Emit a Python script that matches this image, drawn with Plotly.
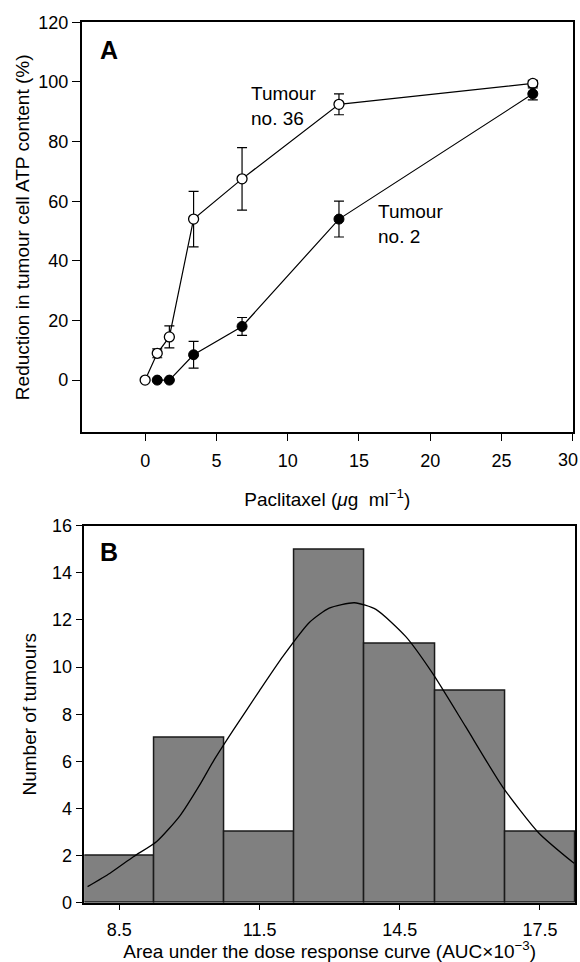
import plotly.graph_objects as go

# ---------------- Panel A data ----------------
dose = [0, 0.85, 1.7, 3.4, 6.8, 13.6, 27.2]
t36_y = [0, 9, 14.5, 54, 67.5, 92.5, 99.5]
t36_err = [0, 1.5, 3.7, 9.3, 10.5, 3.5, 1.0]
dose_t2 = [0.85, 1.7, 3.4, 6.8, 13.6, 27.2]
t2_y = [0, 0, 8.5, 18, 54, 96]
t2_err = [0, 0, 4.5, 3.0, 6.0, 2.0]
xticks_a = [0, 5, 10, 15, 20, 25, 30]
xticklabels_a = ["0", "5", "10", "15", "20", "25", ""]   # "30" drawn as edge label below
edge_label_a = "30"
yticks_a = [0, 20, 40, 60, 80, 100, 120]

# ---------------- Panel B data ----------------
bin_centers = [8.5, 10.0, 11.5, 13.0, 14.5, 16.0, 17.5]
bin_counts = [2, 7, 3, 15, 11, 9, 3]
bin_width = 1.5
curve_x = [7.82, 8.30, 8.80, 9.30, 9.80, 10.22, 10.51, 10.93, 11.50, 12.00,
           12.57, 12.99, 13.53, 13.99, 14.63, 15.20, 15.91, 16.70, 17.48, 18.23]
curve_y = [0.68, 1.25, 1.95, 2.60, 3.70, 5.00, 6.00, 7.30, 9.00, 10.45,
           11.90, 12.50, 12.73, 12.45, 11.29, 9.74, 7.47, 4.92, 2.95, 1.67]
xticks_b = [8.5, 11.5, 14.5, 17.5]
yticks_b = [0, 2, 4, 6, 8, 10, 12, 14, 16]

W, H = 580, 962
FONT = "Liberation Sans, Arial, Helvetica, sans-serif"

fig = go.Figure()

fig.add_trace(go.Scatter(
    x=dose, y=t36_y, mode="lines+markers", name="Tumour no. 36",
    line=dict(color="black", width=1.2),
    marker=dict(symbol="circle", size=10, color="white", line=dict(color="black", width=1.3)),
    error_y=dict(type="data", array=t36_err, color="black", thickness=1.2, width=5),
    xaxis="x", yaxis="y", showlegend=False))

fig.add_trace(go.Scatter(
    x=dose_t2, y=t2_y, mode="lines+markers", name="Tumour no. 2",
    line=dict(color="black", width=1.2),
    marker=dict(symbol="circle", size=10, color="black", line=dict(color="black", width=1)),
    error_y=dict(type="data", array=t2_err, color="black", thickness=1.2, width=5),
    xaxis="x", yaxis="y", showlegend=False))

fig.add_trace(go.Bar(
    x=bin_centers, y=bin_counts, width=bin_width,
    marker=dict(color="#808080", line=dict(color="#1a1a1a", width=1.5)),
    xaxis="x2", yaxis="y2", showlegend=False))

fig.add_trace(go.Scatter(
    x=curve_x, y=curve_y, mode="lines",
    line=dict(color="black", width=1.3, shape="spline", smoothing=0.6),
    xaxis="x2", yaxis="y2", showlegend=False))

axis_common = dict(showline=True, linecolor="black", linewidth=1.5, mirror=True,
                   ticks="outside", tickcolor="black", tickwidth=1.3,
                   showgrid=False, zeroline=False, automargin=False,
                   tickfont=dict(size=18, color="black"))

fig.update_layout(
    width=W, height=H,
    margin=dict(l=0, r=0, t=0, b=0),
    paper_bgcolor="white", plot_bgcolor="white",
    font=dict(family=FONT, color="black"),
    bargap=0,
    xaxis=dict(domain=[81.7 / W, 573 / W], range=[-4.45, 30.02], tickvals=xticks_a,
               ticktext=xticklabels_a, ticklen=7, anchor="y", ticklabelstandoff=4,
               title=dict(text="Paclitaxel (<i>μ</i>g  ml<sup>−1</sup>)", font=dict(size=19), standoff=23),
               **axis_common),
    yaxis=dict(domain=[1 - 432.3 / H, 1 - 22.3 / H], range=[-17.5, 120],
               tickvals=yticks_a, ticklen=8, anchor="x",
               title=dict(text="Reduction in tumour cell ATP content (%)", font=dict(size=19), standoff=4),
               **axis_common),
    xaxis2=dict(domain=[84.3 / W, 575 / W], range=[7.75, 18.25], tickvals=xticks_b,
                ticktext=[str(v) for v in xticks_b], ticklen=6, anchor="y2", ticklabelstandoff=4,
                title=dict(text="Area under the dose response curve (AUC×10<sup>−3</sup>)", font=dict(size=19), standoff=14),
                **axis_common),
    yaxis2=dict(domain=[1 - 902.7 / H, 1 - 525.7 / H], range=[0, 16],
                tickvals=yticks_b, ticklen=7, anchor="x2",
                title=dict(text="Number of tumours", font=dict(size=19), standoff=10),
                **axis_common),
    annotations=[
        dict(text=edge_label_a, xref="paper", yref="paper", x=1.0, y=1 - 460 / H,
             xanchor="right", yanchor="middle", showarrow=False, font=dict(size=18)),
        dict(text="<b>A</b>", xref="x domain", yref="y domain", x=0.033, y=0.932,
             xanchor="left", yanchor="middle", showarrow=False, font=dict(size=25)),
        dict(text="<b>B</b>", xref="x2 domain", yref="y2 domain", x=0.0285, y=0.930,
             xanchor="left", yanchor="middle", showarrow=False, font=dict(size=25)),
        dict(text="Tumour<br>no. 36", xref="x", yref="y", x=7.26, y=92,
             xanchor="left", yanchor="middle", showarrow=False, align="left", font=dict(size=19)),
        dict(text="Tumour<br>no. 2", xref="x", yref="y", x=16.2, y=52.5,
             xanchor="left", yanchor="middle", showarrow=False, align="left", font=dict(size=19)),
    ],
)

fig.write_html("out.html", config={"displayModeBar": False},
               post_script="document.body.style.margin='0';document.body.style.padding='0';")
